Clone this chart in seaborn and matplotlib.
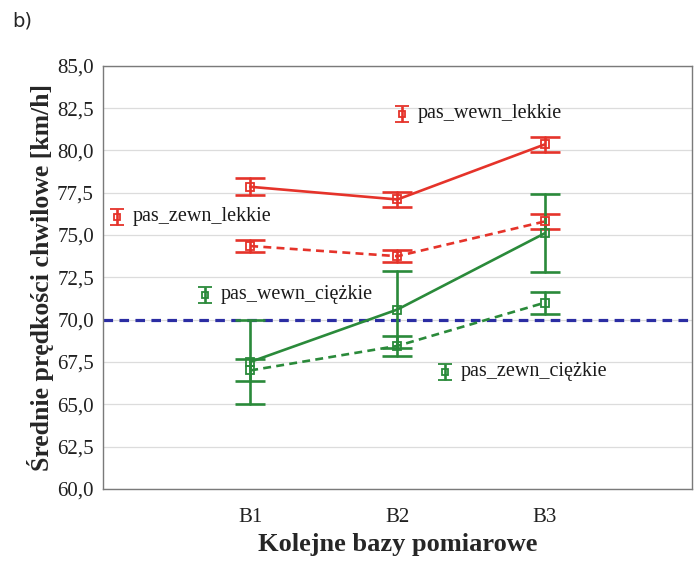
import matplotlib
matplotlib.use("Agg")
import matplotlib.pyplot as plt
import seaborn as sns
import pandas as pd
import numpy as np

# ---- data ----
bases = ["B1", "B2", "B3"]
series_names = ["pas_wewn_lekkie", "pas_zewn_lekkie", "pas_wewn_ciężkie", "pas_zewn_ciężkie"]
wewn_lekkie_mean = [77.85, 77.1, 80.35]
wewn_lekkie_err = [0.50, 0.47, 0.47]
zewn_lekkie_mean = [74.35, 73.75, 75.80]
zewn_lekkie_err = [0.35, 0.37, 0.42]
wewn_ciezkie_mean = [67.5, 70.6, 75.1]
wewn_ciezkie_err = [2.5, 2.25, 2.3]
zewn_ciezkie_mean = [67.0, 68.45, 71.0]
zewn_ciezkie_err = [0.65, 0.60, 0.65]
limit_value = 70.0
yticks = [60.0, 62.5, 65.0, 67.5, 70.0, 72.5, 75.0, 77.5, 80.0, 82.5, 85.0]

means = [wewn_lekkie_mean, zewn_lekkie_mean, wewn_ciezkie_mean, zewn_ciezkie_mean]
errs = [wewn_lekkie_err, zewn_lekkie_err, wewn_ciezkie_err, zewn_ciezkie_err]

RED = "#e5332a"
GREEN = "#2a8a3a"
BLUE = "#2b2da3"
colors = [RED, RED, GREEN, GREEN]
styles = ["-", (0, (3, 2)), "-", (0, (3, 2))]
SERIF = ["Liberation Serif", "DejaVu Serif"]

# long table: low / mid / high rows so seaborn draws the bars
rows = []
for name, m, e in zip(series_names, means, errs):
    for i, (mm, ee) in enumerate(zip(m, e)):
        for v in (mm - ee, mm, mm + ee):
            rows.append({"seria": name, "x": i + 1, "v": v})
df = pd.DataFrame(rows)

sns.set_theme(style="white")
plt.rcParams["font.family"] = SERIF

fig = plt.figure(figsize=(6.96, 5.62), dpi=100)
ax = fig.add_axes([0.148, 0.130, 0.846, 0.753])

ax.yaxis.grid(True, color="#dcdcdc", lw=0.9)
ax.set_axisbelow(True)
ax.axhline(limit_value, color=BLUE, ls=(0, (3, 2)), lw=2.3, zorder=1)

for name, col, ls in zip(series_names, colors, styles):
    sub = df[df["seria"] == name]
    sns.lineplot(data=sub, x="x", y="v", estimator="median",
                 errorbar=lambda s: (s.min(), s.max()), err_style="bars",
                 err_kws={"capsize": 11, "elinewidth": 1.9, "capthick": 1.9},
                 color=col, ax=ax, lw=1.9, marker="s", markersize=6,
                 markerfacecolor="none", markeredgecolor=col, markeredgewidth=1.3,
                 linestyle=ls, legend=False, zorder=3)
for line, ls in zip([l for l in ax.lines if l.get_marker() == "s"], styles):
    line.set_linestyle(ls)

ax.set_xlim(0, 4)
ax.set_ylim(60, 85)
ax.set_xticks([1, 2, 3])
ax.set_xticklabels(bases, fontfamily=SERIF, fontsize=15)
ax.set_yticks(yticks)
ax.set_yticklabels([f"{t:.1f}".replace(".", ",") for t in yticks], fontfamily=SERIF, fontsize=15)
ax.tick_params(axis="both", colors="#202020")
ax.tick_params(axis="y", direction="inout", length=5, width=0.8, color="#808080", pad=4)
ax.tick_params(axis="x", direction="in", length=4, width=0.8, color="#808080", pad=14)
for sp in ax.spines.values():
    sp.set_color("#7a7a7a")
    sp.set_linewidth(1.0)

ax.set_xlabel("Kolejne bazy pomiarowe", fontsize=19, fontweight="bold", labelpad=4,
              fontfamily=SERIF)
ax.set_ylabel("Średnie prędkości chwilowe [km/h]", fontsize=18.5, fontweight="bold",
              labelpad=2, fontfamily=SERIF)

# in-plot legend entries (icon + label, axes-fraction positions)
leg_pos = [(0.508, 0.887), (0.024, 0.643), (0.173, 0.459), (0.581, 0.277)]
for name, col, (px, py) in zip(series_names, colors, leg_pos):
    ax.errorbar([px], [py], yerr=[0.019], fmt="s", color=col, markersize=4.5,
                markerfacecolor="none", markeredgewidth=1.3, capsize=5,
                elinewidth=1.9, capthick=1.9, transform=ax.transAxes, clip_on=False,
                zorder=4)
    ax.text(px + 0.026, py, name, transform=ax.transAxes, fontsize=14.5,
            va="center", ha="left", color="#1a1a1a", fontfamily=SERIF)

fig.text(0.018, 0.962, "b)", fontsize=14, family="DejaVu Sans", va="center", ha="left")

fig.savefig("out.png", dpi=100)
